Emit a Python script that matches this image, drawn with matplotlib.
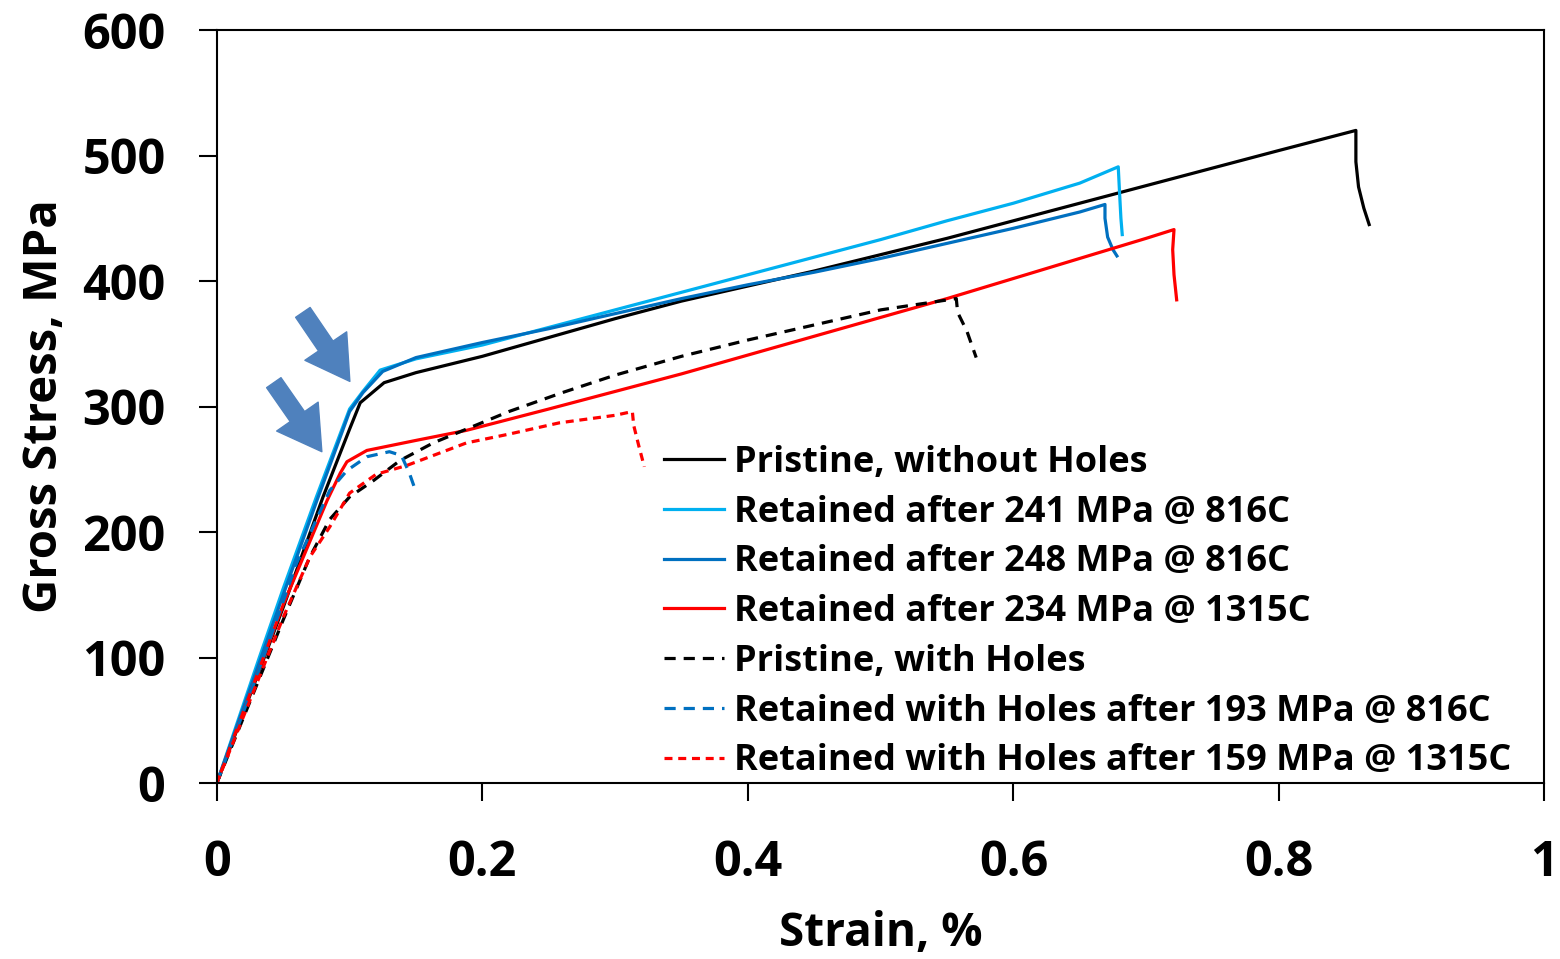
import numpy as np
import matplotlib
matplotlib.use('Agg')
import matplotlib.pyplot as plt

plt.rcParams['font.family'] = ['Open Sans', 'DejaVu Sans']
plt.rcParams['font.weight'] = 'bold'

# strain (%) / gross stress (MPa)
pr_x = [0, 0.05, 0.08, 0.1, 0.108, 0.126, 0.15, 0.2, 0.25, 0.3, 0.35, 0.4, 0.45, 0.5, 0.55, 0.6,
        0.65, 0.7, 0.75, 0.8, 0.858, 0.858, 0.860, 0.864, 0.868]
pr_y = [0, 140, 228, 282, 303, 319, 327, 340, 355, 370, 384, 396, 408, 421, 434, 448,
        462, 476, 490, 504, 520, 495, 475, 458, 445]

r241_x = [0, 0.032, 0.05, 0.075, 0.1, 0.11, 0.123, 0.15, 0.2, 0.25, 0.3, 0.35, 0.4, 0.45, 0.5,
          0.55, 0.6, 0.65, 0.679, 0.680, 0.681, 0.682]
r241_y = [0, 100, 155, 228, 298, 312, 329, 338, 349, 363, 377, 391, 405, 419, 433,
          448, 462, 478, 491, 470, 450, 437]

r248_x = [0, 0.05, 0.075, 0.1, 0.11, 0.125, 0.15, 0.2, 0.25, 0.3, 0.35, 0.4, 0.45, 0.5, 0.55,
          0.6, 0.65, 0.669, 0.669, 0.671, 0.675, 0.678]
r248_y = [0, 150, 224, 296, 311, 328, 339, 351, 362, 374, 386, 397, 407, 418, 430,
          442, 455, 461, 450, 435, 425, 420]

r234_x = [0, 0.05, 0.083, 0.093, 0.098, 0.113, 0.15, 0.188, 0.25, 0.3, 0.35, 0.4, 0.45, 0.5,
          0.55, 0.6, 0.65, 0.7, 0.721, 0.720, 0.721, 0.723]
r234_y = [0, 142, 225, 247, 256, 265, 273, 281, 298, 312, 326, 341, 356, 371,
          386, 402, 418, 434, 441, 425, 405, 385]

ph_x = [0, 0.05, 0.07, 0.085, 0.1, 0.118, 0.138, 0.163, 0.188, 0.22, 0.26, 0.3, 0.35, 0.4,
        0.45, 0.5, 0.557, 0.558, 0.565, 0.572]
ph_y = [0, 130, 180, 210, 228, 241, 257, 271, 282, 296, 311, 325, 340, 353,
        365, 377, 386, 375, 360, 339]

h193_x = [0, 0.03, 0.06, 0.075, 0.085, 0.098, 0.113, 0.13, 0.139, 0.145, 0.149]
h193_y = [0, 85, 175, 210, 233, 249, 260, 264, 261, 247, 235]

h159_x = [0, 0.05, 0.07, 0.085, 0.1, 0.12, 0.143, 0.188, 0.22, 0.258, 0.3, 0.313, 0.314,
          0.318, 0.322]
h159_y = [0, 132, 180, 204, 231, 246, 253, 271, 278, 287, 293, 296, 285, 268, 252]

labels = ['Pristine, without Holes',
          'Retained after 241 MPa @ 816C',
          'Retained after 248 MPa @ 816C',
          'Retained after 234 MPa @ 1315C',
          'Pristine, with Holes',
          'Retained with Holes after 193 MPa @ 816C',
          'Retained with Holes after 159 MPa @ 1315C']

# arrow annotations: (tail, tip) in data units
arrows = [((0.0648, 375), (0.1002, 320)),
          ((0.0429, 319), (0.0791, 264))]

fig = plt.figure(figsize=(15.6, 9.59), dpi=100)
ax = fig.add_axes([0.139, 0.1835, 0.851, 0.7852])

lw = 2.3
ax.plot(pr_x, pr_y, color='black', lw=lw, label=labels[0])
ax.plot(r241_x, r241_y, color='#00B0F0', lw=lw, label=labels[1])
ax.plot(r248_x, r248_y, color='#0070C0', lw=lw, label=labels[2])
ax.plot(r234_x, r234_y, color='#FF0000', lw=lw, label=labels[3])
ax.plot(ph_x, ph_y, color='black', lw=lw, ls=(0, (3.5, 2.5)), label=labels[4])
ax.plot(h193_x, h193_y, color='#0070C0', lw=lw, ls=(0, (3.5, 2.5)), label=labels[5])
ax.plot(h159_x, h159_y, color='#FF0000', lw=lw, ls=(0, (2.5, 1.8)), label=labels[6])

for tail, tip in arrows:
    ax.annotate('', xy=tip, xytext=tail,
                arrowprops=dict(arrowstyle='simple,head_length=1.1,head_width=1.3,tail_width=0.45',
                                color='#4F81BD', mutation_scale=28, shrinkA=0, shrinkB=0))

ax.set_xlim(0, 1)
ax.set_ylim(0, 600)
ax.set_xticks([0, 0.2, 0.4, 0.6, 0.8, 1])
ax.set_xticklabels(['0', '0.2', '0.4', '0.6', '0.8', '1'])
ax.set_yticks(range(0, 601, 100))
ax.tick_params(direction='out', length=13, width=1.5, labelsize=35, pad=27)
ax.tick_params(axis='y', pad=24)
for s in ax.spines.values():
    s.set_linewidth(1.5)

ax.set_xlabel('Strain, %', fontsize=33, fontweight='bold', labelpad=16)
ax.set_ylabel('Gross Stress, MPa', fontsize=34, fontweight='bold', labelpad=10)

leg = ax.legend(loc='upper left', bbox_to_anchor=(0.337, 0.449), frameon=False,
                fontsize=26, handlelength=1.66, handletextpad=0.28, labelspacing=0.38,
                borderpad=0, borderaxespad=0)
for t in leg.get_texts():
    t.set_fontweight('bold')

fig.savefig('out.png', dpi=100)
